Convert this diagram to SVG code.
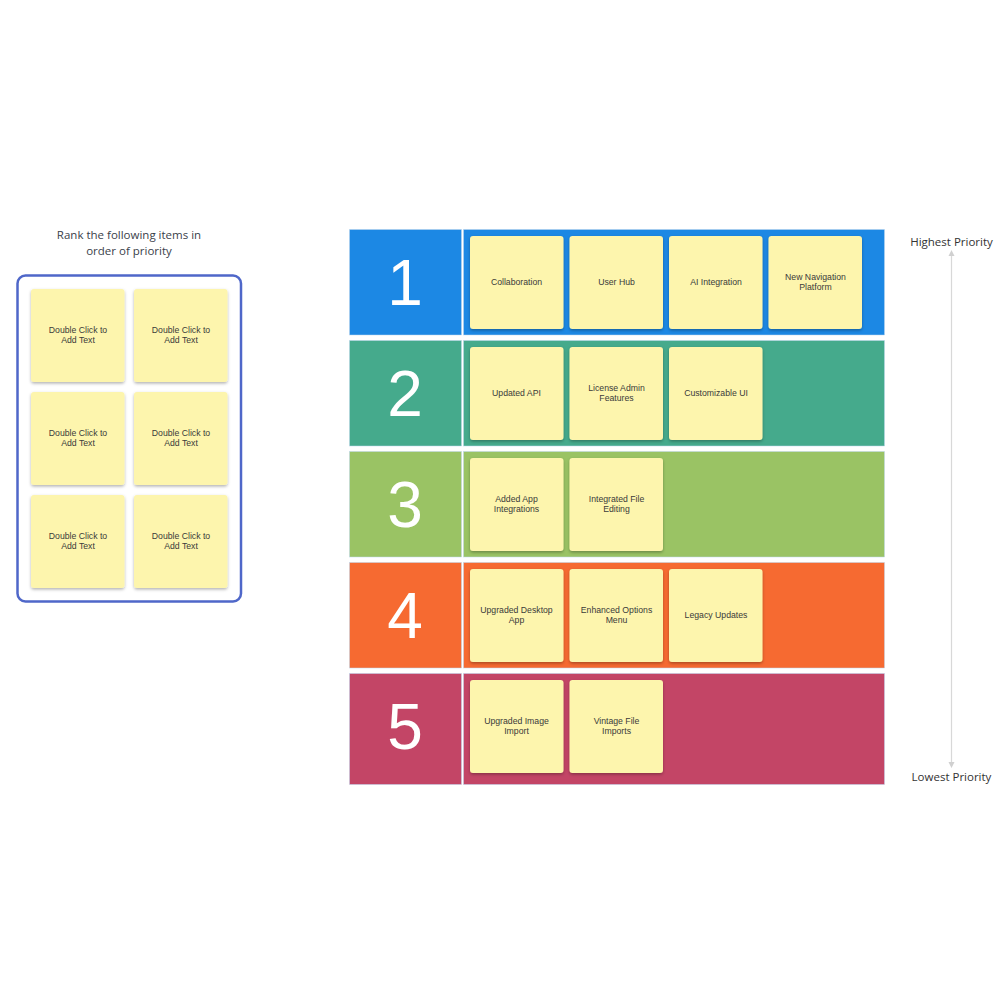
<svg xmlns="http://www.w3.org/2000/svg" width="1000" height="1000" viewBox="0 0 1000 1000">
<style>
.s{fill:#fdf5ad;filter:url(#sh)}
.t{font-family:"Liberation Sans",Arial,sans-serif;font-size:8.7px;fill:#3a3a3a;text-anchor:middle}
.h{font-family:"Open Sans","Noto Sans",sans-serif;font-size:11.5px;fill:#3a414a;text-anchor:middle}
.n{font-family:"Liberation Sans",Arial,sans-serif;font-size:64px;fill:#fff;text-anchor:middle}
.r{stroke:#bcd6ee;stroke-width:.5}
</style>
<defs>
<filter id="sh" x="-10%" y="-10%" width="120%" height="125%"><feDropShadow dx="0" dy="1.5" stdDeviation="1.5" flood-color="#000" flood-opacity=".3"/></filter>
<g id="note"><rect class="s" width="93.500" height="93" rx="3"/></g>
</defs>
<g id="prompt"><text class="h" x="129" y="239">Rank the following items in</text><text class="h" x="129" y="255">order of priority</text></g>
<g id="bank">
<rect x="17.5" y="275.500" width="223.500" height="326" rx="8" fill="#fff" stroke="#4f67c9" stroke-width="2.500"/>
<g id="b1"><use href="#note" x="31" y="289"/><text class="t" x="78" y="333">Double Click to</text><text class="t" x="78" y="343">Add Text</text></g>
<g id="b2"><use href="#note" x="134" y="289"/><text class="t" x="181" y="333">Double Click to</text><text class="t" x="181" y="343">Add Text</text></g>
<g id="b3"><use href="#note" x="31" y="392"/><text class="t" x="78" y="436">Double Click to</text><text class="t" x="78" y="446">Add Text</text></g>
<g id="b4"><use href="#note" x="134" y="392"/><text class="t" x="181" y="436">Double Click to</text><text class="t" x="181" y="446">Add Text</text></g>
<g id="b5"><use href="#note" x="31" y="495"/><text class="t" x="78" y="539">Double Click to</text><text class="t" x="78" y="549">Add Text</text></g>
<g id="b6"><use href="#note" x="134" y="495"/><text class="t" x="181" y="539">Double Click to</text><text class="t" x="181" y="549">Add Text</text></g>
</g>
<g id="row1"><rect class="r" x="349.500" y="229.500" width="112" height="105.500" fill="#1c88e4"/><rect class="r" x="463.500" y="229.500" width="421" height="105.500" fill="#1c88e4"/><text class="n" x="405" y="305">1</text></g>
<g id="row2"><rect class="r" x="349.500" y="340.500" width="112" height="105.500" fill="#45aa8c"/><rect class="r" x="463.500" y="340.500" width="421" height="105.500" fill="#45aa8c"/><text class="n" x="405" y="416">2</text></g>
<g id="row3"><rect class="r" x="349.500" y="451.500" width="112" height="105.500" fill="#9ac364"/><rect class="r" x="463.500" y="451.500" width="421" height="105.500" fill="#9ac364"/><text class="n" x="405" y="527">3</text></g>
<g id="row4"><rect class="r" x="349.500" y="562.500" width="112" height="105.500" fill="#f66a31"/><rect class="r" x="463.500" y="562.500" width="421" height="105.500" fill="#f66a31"/><text class="n" x="405" y="638">4</text></g>
<g id="row5"><rect class="r" x="349.500" y="673.500" width="112" height="111" fill="#c34566"/><rect class="r" x="463.500" y="673.500" width="421" height="111" fill="#c34566"/><text class="n" x="405" y="749">5</text></g>
<g id="n1"><use href="#note" x="470" y="236"/><text class="t" x="516.500" y="285">Collaboration</text></g>
<g id="n2"><use href="#note" x="569.500" y="236"/><text class="t" x="616.500" y="285">User Hub</text></g>
<g id="n3"><use href="#note" x="669" y="236"/><text class="t" x="716" y="285">AI Integration</text></g>
<g id="n4"><use href="#note" x="768.500" y="236"/><text class="t" x="815.500" y="280">New Navigation</text><text class="t" x="815.500" y="290">Platform</text></g>
<g id="n5"><use href="#note" x="470" y="347"/><text class="t" x="516.500" y="396">Updated API</text></g>
<g id="n6"><use href="#note" x="569.500" y="347"/><text class="t" x="616.500" y="391">License Admin</text><text class="t" x="616.500" y="401">Features</text></g>
<g id="n7"><use href="#note" x="669" y="347"/><text class="t" x="716" y="396">Customizable UI</text></g>
<g id="n8"><use href="#note" x="470" y="458"/><text class="t" x="516.500" y="502">Added App</text><text class="t" x="516.500" y="512">Integrations</text></g>
<g id="n9"><use href="#note" x="569.500" y="458"/><text class="t" x="616.500" y="502">Integrated File</text><text class="t" x="616.500" y="512">Editing</text></g>
<g id="n10"><use href="#note" x="470" y="569"/><text class="t" x="516.500" y="613">Upgraded Desktop</text><text class="t" x="516.500" y="623">App</text></g>
<g id="n11"><use href="#note" x="569.500" y="569"/><text class="t" x="616.500" y="613">Enhanced Options</text><text class="t" x="616.500" y="623">Menu</text></g>
<g id="n12"><use href="#note" x="669" y="569"/><text class="t" x="716" y="618">Legacy Updates</text></g>
<g id="n13"><use href="#note" x="470" y="680"/><text class="t" x="516.500" y="724">Upgraded Image</text><text class="t" x="516.500" y="734">Import</text></g>
<g id="n14"><use href="#note" x="569.500" y="680"/><text class="t" x="616.500" y="724">Vintage File</text><text class="t" x="616.500" y="734">Imports</text></g>
<g id="hi"><text class="h" x="951.500" y="246" style="fill:#333">Highest Priority</text></g>
<g id="lo"><text class="h" x="951.500" y="781" style="fill:#333">Lowest Priority</text></g>
<g id="connectors"><line x1="951.500" y1="254" x2="951.500" y2="763" stroke="#d8d8d8" stroke-width="1.200"/>
<path d="M951.500 250l-3 6h6z M951.500 768l-3-6h6z" fill="#d0d0d0"/></g>
</svg>
